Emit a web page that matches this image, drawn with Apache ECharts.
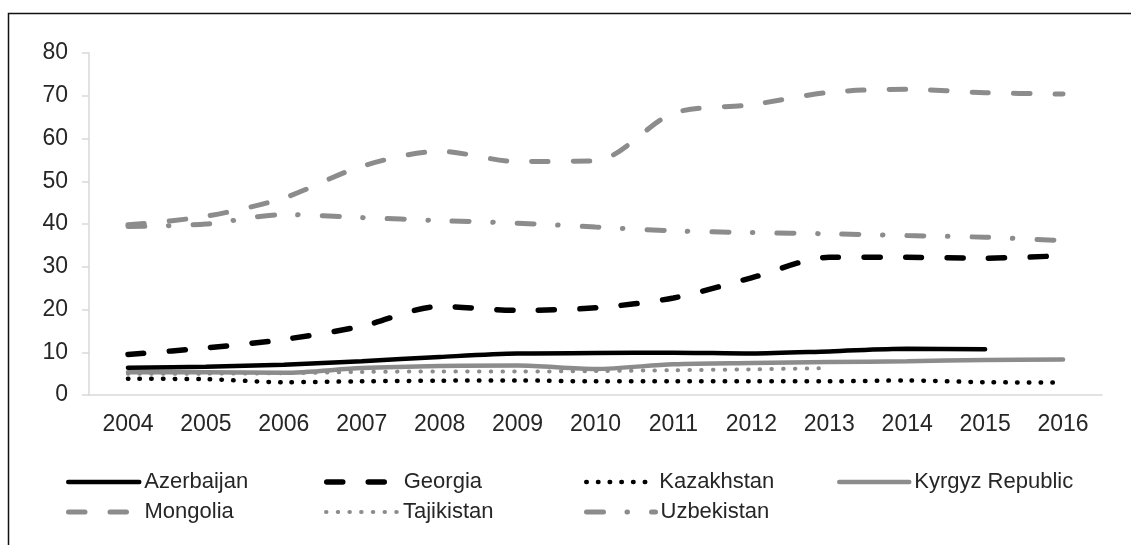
<!DOCTYPE html>
<html lang="en">
<head>
    <meta charset="UTF-8">
    <title>Line chart</title>
    <script src="https://cdn.jsdelivr.net/npm/echarts@6/dist/echarts.min.js"></script>
    <style>
        html, body { margin: 0; padding: 0; background: #fff; }
        #main { width: 1131px; height: 545px; }
    </style>
</head>
<body>
<div id="main"></div>
<script>
    // data
    var years = ['2004', '2005', '2006', '2007', '2008', '2009', '2010', '2011', '2012', '2013', '2014', '2015', '2016'];
    var yTicks = [0, 10, 20, 30, 40, 50, 60, 70, 80];
    var azerbaijan = [6.4, 6.6, 7.1, 7.9, 8.9, 9.7, 9.8, 9.9, 9.7, 10.2, 10.8, 10.7, null];
    var georgia = [9.5, 11.0, 13.0, 16.1, 20.7, 19.8, 20.4, 22.7, 27.4, 32.2, 32.2, 32.0, 32.6];
    var kazakhstan = [3.8, 3.7, 3.0, 3.2, 3.35, 3.4, 3.2, 3.2, 3.2, 3.2, 3.4, 3.0, 2.9];
    var kyrgyz = [5.3, 5.3, 5.2, 6.3, 6.8, 6.9, 6.1, 7.2, 7.5, 7.7, 7.9, 8.2, 8.3];
    var mongolia = [39.8, 41.8, 46.1, 53.5, 57.0, 54.6, 54.8, 65.9, 67.9, 70.8, 71.5, 70.7, 70.4];
    var tajikistan = [5.0, 5.0, 5.1, 5.4, 5.5, 5.5, 5.6, 5.8, 6.0, 6.3, null, null, null];
    var uzbekistan = [39.4, 40.0, 42.2, 41.5, 40.8, 40.2, 39.3, 38.4, 38.0, 37.7, 37.3, 36.9, 36.1];

    var black = '#000000';
    var grey = '#8c8c8c';
    var font = 'Liberation Sans, Arial, sans-serif';

    // line styles of every series, also used for the legend icons
    var styles = {
        'Azerbaijan': {color: black, width: 4.5, type: 'solid', cap: 'round'},
        'Georgia': {color: black, width: 5.5, type: [16, 25.5], cap: 'round'},
        'Kazakhstan': {color: black, width: 4.5, type: [0.5, 11.2], cap: 'round'},
        'Kyrgyz Republic': {color: grey, width: 4.5, type: 'solid', cap: 'round'},
        'Mongolia': {color: grey, width: 5, type: [16.5, 25], cap: 'round'},
        'Tajikistan': {color: grey, width: 4, type: [0.5, 11.2], cap: 'round'},
        'Uzbekistan': {color: grey, width: 5, type: [17, 23.5, 0.5, 24], cap: 'round'}
    };
    var seriesData = {
        'Azerbaijan': azerbaijan,
        'Georgia': georgia,
        'Kazakhstan': kazakhstan,
        'Kyrgyz Republic': kyrgyz,
        'Mongolia': mongolia,
        'Tajikistan': tajikistan,
        'Uzbekistan': uzbekistan
    };
    // legend places: [left of icon, top, icon width]
    var legendPos = {
        'Azerbaijan': [66, 471, 71],
        'Georgia': [324, 471, 72],
        'Kazakhstan': [584, 471, 68],
        'Kyrgyz Republic': [837, 471, 70],
        'Mongolia': [66, 501, 71],
        'Tajikistan': [324, 501, 72],
        'Uzbekistan': [584, 501, 69]
    };

    var names = Object.keys(seriesData);
    var series = [];
    var legends = [];
    for (var i = 0; i < names.length; i++) {
        var n = names[i];
        series.push({
            name: n,
            type: 'line',
            data: seriesData[n],
            smooth: 0.3,
            symbol: 'none',
            connectNulls: false,
            lineStyle: styles[n],
            itemStyle: {color: styles[n].color},
            z: 2 + i
        });
        legends.push({
            data: [n],
            left: legendPos[n][0],
            top: legendPos[n][1],
            padding: 0,
            itemWidth: legendPos[n][2],
            itemHeight: 14,
            selectedMode: false,
            lineStyle: styles[n],
            itemStyle: {opacity: 0},
            textStyle: {fontFamily: font, fontSize: 22, color: '#262626'}
        });
    }

    var mychart = echarts.init(document.getElementById('main'));
    var option = {
        animation: false,
        backgroundColor: '#ffffff',
        graphic: [{
            type: 'rect',
            shape: {x: 8.5, y: 13.5, width: 1300, height: 700},
            style: {fill: 'none', stroke: '#111111', lineWidth: 1.5},
            silent: true
        }],
        grid: {left: 89, right: 29, top: 53, bottom: 150},
        legend: legends,
        xAxis: {
            type: 'category',
            data: years,
            boundaryGap: true,
            axisLine: {lineStyle: {color: '#d9d9d9', width: 1.5}},
            axisTick: {show: false},
            axisLabel: {fontFamily: font, fontSize: 23, color: '#262626', margin: 18}
        },
        yAxis: {
            type: 'value',
            min: yTicks[0],
            max: yTicks[yTicks.length - 1],
            interval: 10,
            axisLine: {show: true, lineStyle: {color: '#d9d9d9', width: 1.5}},
            axisTick: {show: true, length: 7, lineStyle: {color: '#d9d9d9', width: 1.5}},
            splitLine: {show: false},
            axisLabel: {fontFamily: font, fontSize: 23, color: '#262626', margin: 21}
        },
        series: series
    };
    mychart.setOption(option);
</script>
</body>
</html>
